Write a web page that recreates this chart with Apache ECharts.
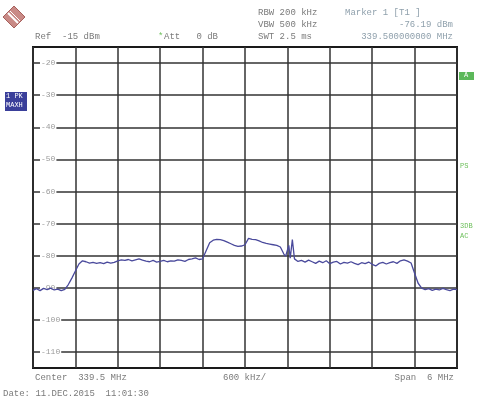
<!DOCTYPE html>
<html>
<head>
<meta charset="utf-8">
<script src="https://cdn.jsdelivr.net/npm/echarts@6/dist/echarts.min.js"></script>
<style>
  html, body { margin: 0; padding: 0; background: #fff; }
  #chart { width: 491px; height: 403px; }
</style>
</head>
<body>
<div id="chart"></div>
<script>
var freqKHz = [
  -3000, -2950, -2900, -2850, -2800, -2750, -2700, -2650, -2600, -2550,
  -2500, -2450, -2400, -2350, -2300, -2250, -2200, -2150, -2100, -2050,
  -2000, -1950, -1900, -1850, -1800, -1750, -1700, -1650, -1600, -1550,
  -1500, -1450, -1400, -1350, -1300, -1250, -1200, -1150, -1100, -1050,
  -1000, -950, -900, -850, -800, -750, -700, -650, -600, -550,
  -500, -450, -400, -350, -300, -250, -200, -150, -100, -50,
  0, 50, 100, 150, 200, 250, 300, 350, 400, 450,
  500, 550, 575, 600, 620, 640, 670, 700, 750,
  800, 850, 900, 950, 1000, 1050, 1100, 1150, 1200, 1250,
  1300, 1350, 1400, 1450, 1500, 1550, 1600, 1650, 1700, 1750,
  1800, 1850, 1900, 1950, 2000, 2050, 2100, 2150, 2200, 2250,
  2300, 2350, 2400, 2450, 2500, 2550, 2600, 2650, 2700, 2750,
  2800, 2850, 2900, 2950, 3000
];
var levelDbm = [
  -90.8, -90.3, -90.9, -90.2, -90.6, -90.1, -90.7, -90.4, -90.9, -90.5,
  -89.0, -87.0, -84.8, -82.6, -81.6, -81.9, -82.3, -82.1, -82.4, -82.2,
  -82.5, -82.0, -82.3, -82.1, -81.6, -81.3, -81.5, -81.2, -81.6, -81.3,
  -81.0, -81.4, -81.7, -81.9, -81.5, -82.0, -81.8, -81.5, -81.9, -81.6,
  -81.7, -81.3, -81.5, -81.8, -81.2, -81.0, -80.7, -81.2, -81.0, -78.5,
  -76.0, -75.2, -74.9, -75.0, -75.3, -75.8, -76.3, -76.8, -77.1, -77.0,
  -76.6, -74.6, -74.9, -75.0, -75.4, -75.9, -76.2, -76.4, -76.6, -76.8,
  -77.3, -79.5, -80.2, -80.6, -76.8, -80.8, -75.0, -81.0, -81.8,
  -81.5, -82.0, -81.4, -81.9, -82.4, -81.7, -82.2, -81.6, -82.5, -82.0,
  -81.8, -82.6, -82.1, -82.3, -81.9, -82.4, -82.8, -82.2, -82.5, -82.0,
  -82.7, -83.2, -82.4, -82.1, -82.6, -82.2, -81.9, -82.4, -81.6, -81.3,
  -81.7, -82.3, -85.5, -88.6, -90.1, -90.6, -90.3, -90.8, -90.4, -90.7,
  -90.2, -90.6, -90.9, -90.4, -90.6
];
var levelTicks = [-110, -100, -90, -80, -70, -60, -50, -40, -30, -20];

var traceData = freqKHz.map(function (f, i) { return [f, levelDbm[i]]; });

var mono = '"Liberation Mono", "DejaVu Sans Mono", monospace';
var grey = '#7a7a7a';

function txt(x, y, s, opt) {
  opt = opt || {};
  return {
    type: 'text', left: opt.right == null ? x : undefined, right: opt.right, top: y,
    style: { text: s, fill: opt.color || grey, font: (opt.size || 9) + 'px ' + mono }
  };
}

var chart = echarts.init(document.getElementById('chart'));
chart.setOption({
  animation: false,
  backgroundColor: '#fff',
  grid: {
    left: 33, right: 34, top: 47, bottom: 35,
    show: true, borderColor: '#1a1a1a', borderWidth: 2, backgroundColor: '#fff'
  },
  xAxis: {
    type: 'value', min: -3000, max: 3000, interval: 600,
    axisLine: { show: false }, axisTick: { show: false }, axisLabel: { show: false },
    splitLine: { show: true, lineStyle: { color: '#333', width: 1.5 } }
  },
  yAxis: {
    type: 'value', min: -115, max: -15,
    axisLine: { show: false },
    axisTick: { show: false, customValues: levelTicks },
    splitLine: { show: true, lineStyle: { color: '#333', width: 1.5 } },
    axisLabel: {
      customValues: levelTicks, inside: true, margin: 7,
      color: '#9a9a9a', fontFamily: mono, fontSize: 8,
      backgroundColor: '#fff', padding: [0, 1]
    }
  },
  series: [{
    type: 'line', data: traceData, showSymbol: false,
    lineStyle: { color: '#4a4a9c', width: 1.3 }, itemStyle: { color: '#4a4a9c' }
  }],
  graphic: [
    // R&S logo
    { type: 'polygon', shape: { points: [[14, 6], [25, 17], [14, 28], [3, 17]] },
      style: { fill: '#c98a86', stroke: '#a8605c', lineWidth: 1 } },
    { type: 'polyline', shape: { points: [[8, 13], [18, 23]] },
      style: { stroke: '#fff', lineWidth: 2 } },
    { type: 'polyline', shape: { points: [[10, 11], [20, 21]] },
      style: { stroke: '#fff', lineWidth: 1 } },

    txt(35, 32, 'Ref  -15 dBm'),
    txt(158, 32, '*', { color: '#6cbf5a' }),
    txt(164, 32, 'Att   0 dB'),
    txt(258, 8, 'RBW 200 kHz'),
    txt(258, 20, 'VBW 500 kHz'),
    txt(258, 32, 'SWT 2.5 ms'),
    txt(345, 8, 'Marker 1 [T1 ]', { color: '#8fa0ac' }),
    txt(0, 20, '-76.19 dBm', { right: 38, color: '#8fa0ac' }),
    txt(0, 32, '339.500000000 MHz', { right: 38, color: '#8fa0ac' }),

    // trace info box
    { type: 'rect', shape: { x: 5, y: 92, width: 22, height: 19 },
      style: { fill: '#3a3f9a' } },
    txt(6, 93, '1 PK', { color: '#fff', size: 7 }),
    txt(6, 102, 'MAXH', { color: '#fff', size: 7 }),

    // right side annotations
    { type: 'rect', shape: { x: 459, y: 72, width: 15, height: 8 },
      style: { fill: '#5cb85a' } },
    txt(464, 72, 'A', { color: '#fff', size: 7 }),
    txt(460, 163, 'PS', { color: '#6cbf5a', size: 7 }),
    txt(460, 223, '3DB', { color: '#6cbf5a', size: 7 }),
    txt(460, 233, 'AC', { color: '#6cbf5a', size: 7 }),

    txt(35, 373, 'Center  339.5 MHz'),
    txt(223, 373, '600 kHz/'),
    txt(0, 373, 'Span  6 MHz', { right: 37 }),
    txt(3, 389, 'Date: 11.DEC.2015  11:01:30')
  ]
});
</script>
</body>
</html>
